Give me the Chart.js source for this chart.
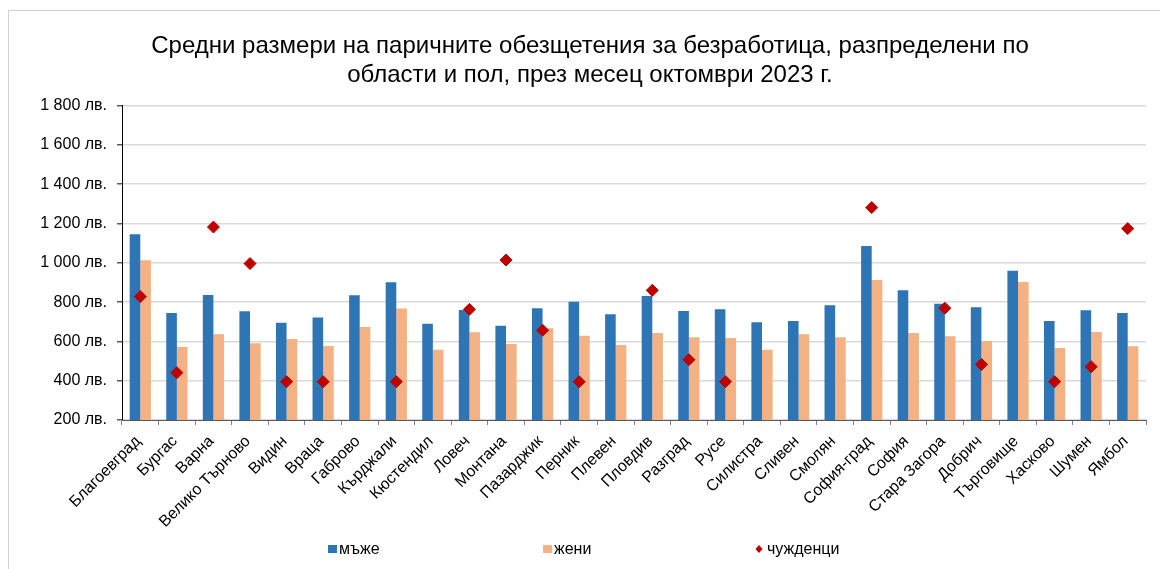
<!DOCTYPE html>
<html>
<head>
<meta charset="utf-8">
<script src="https://cdn.jsdelivr.net/npm/chart.js@4/dist/chart.umd.min.js"></script>
<style>
  html, body { margin: 0; padding: 0; background: #fff; }
  #wrap { position: relative; width: 1160px; height: 569px; overflow: hidden; }
  #frame { position: absolute; left: 8px; top: 10px; width: 1200px; height: 600px;
           border-top: 1px solid #d0d0d0; border-left: 1px solid #d0d0d0; }
  canvas { position: absolute; left: 0; top: 0; }
</style>
</head>
<body>
<div id="wrap">
  <div id="frame"></div>
  <canvas id="benefitChart" width="1160" height="569"></canvas>
</div>
<script>
// Regions (области)
const regions = [
    'Благоевград', 'Бургас', 'Варна', 'Велико Търново', 'Видин', 'Враца', 'Габрово',
    'Кърджали', 'Кюстендил', 'Ловеч', 'Монтана', 'Пазарджик', 'Перник', 'Плевен',
    'Пловдив', 'Разград', 'Русе', 'Силистра', 'Сливен', 'Смолян', 'София-град',
    'София', 'Стара Загора', 'Добрич', 'Търговище', 'Хасково', 'Шумен', 'Ямбол'
];

// Average benefit, BGN
const men = [1145, 745, 836, 753, 695, 722, 835, 901, 690, 760, 680, 769, 802, 738,
             831, 755, 763, 697, 704, 784, 1086, 860, 792, 774, 960, 704, 758, 745];
const women = [1013, 572, 636, 590, 612, 577, 673, 767, 558, 646, 587, 667, 629, 582,
               643, 621, 617, 558, 636, 621, 913, 643, 626, 602, 902, 567, 648, 575];
const foreigners = [828, 441, 1182, 996, 395, 395, null, 395, null, 763, 1014, 657, 395, null,
                    860, 507, 395, null, null, null, 1281, null, 769, 483, null, 395, 471, 1174];

const yTicks = [200, 400, 600, 800, 1000, 1200, 1400, 1600, 1800];

const FONT = 'Liberation Sans, Arial, sans-serif';

function formatLeva(v) {
    let s = v >= 1000 ? Math.floor(v / 1000) + ' ' + String(v % 1000).padStart(3, '0') : String(v);
    return s + ' лв.';
}

// Legend spread out like the Excel original
const spacedLegend = {
    id: 'spacedLegend',
    afterDraw: function(chart, args, opts) {
        const c = chart.ctx;
        c.save();
        c.font = '16px ' + FONT;
        c.textBaseline = 'middle';
        chart.data.datasets.forEach(function(ds, i) {
            const x = opts.positions[i];
            const y = opts.y;
            c.fillStyle = ds.backgroundColor;
            if (ds.type === 'line') {
                c.beginPath();
                c.moveTo(x, y - 4);
                c.lineTo(x + 3.5, y);
                c.lineTo(x, y + 4);
                c.lineTo(x - 3.5, y);
                c.closePath();
                c.fill();
                c.fillStyle = '#000';
                c.fillText(ds.label, x + 8, y + 1);
            } else {
                c.fillRect(x, y - 4, 9, 8);
                c.fillStyle = '#000';
                c.fillText(ds.label, x + 11, y + 1);
            }
        });
        c.restore();
    }
};

const ctx = document.getElementById('benefitChart');

new Chart(ctx, {
    type: 'bar',
    data: {
        labels: regions,
        datasets: [
            {
                label: 'мъже',
                data: men,
                backgroundColor: '#2E75B6',
                categoryPercentage: 0.58,
                barPercentage: 1.0,
                order: 2
            },
            {
                label: 'жени',
                data: women,
                backgroundColor: '#F4B183',
                categoryPercentage: 0.58,
                barPercentage: 1.0,
                order: 2
            },
            {
                type: 'line',
                label: 'чужденци',
                data: foreigners,
                showLine: false,
                pointStyle: 'rectRot',
                pointRadius: 6,
                pointHoverRadius: 6,
                pointBackgroundColor: '#C00000',
                pointBorderColor: '#C00000',
                borderColor: '#C00000',
                backgroundColor: '#C00000',
                order: 1
            }
        ]
    },
    plugins: [spacedLegend],
    options: {
        responsive: false,
        animation: false,
        layout: {
            padding: { left: 34, right: 14, top: 0, bottom: 30 }
        },
        scales: {
            y: {
                min: 200,
                max: 1800,
                afterBuildTicks: function(axis) {
                    axis.ticks = yTicks.map(v => ({ value: v }));
                },
                afterFit: function(axis) {
                    axis.width = 88;
                },
                grid: {
                    color: '#d9d9d9',
                    lineWidth: 1.5,
                    tickColor: '#595959',
                    tickLength: 5
                },
                border: { color: '#000000', width: 1 },
                ticks: {
                    autoSkip: false,
                    color: '#000000',
                    padding: 10,
                    font: { family: FONT, size: 16 },
                    callback: function(value) {
                        return formatLeva(value);
                    }
                }
            },
            x: {
                afterFit: function(axis) {
                    axis.height = 119;
                },
                grid: {
                    drawOnChartArea: false,
                    offset: true,
                    tickColor: '#7f7f7f',
                    tickLength: 5
                },
                border: { color: '#595959', width: 1 },
                ticks: {
                    color: '#000000',
                    padding: 7,
                    labelOffset: -2,
                    minRotation: 45,
                    maxRotation: 45,
                    autoSkip: false,
                    font: { family: FONT, size: 16 }
                }
            }
        },
        plugins: {
            title: {
                display: true,
                text: [
                    'Средни размери на паричните обезщетения за безработица, разпределени по',
                    'области и пол, през месец октомври 2023 г.'
                ],
                color: '#000000',
                font: { family: FONT, size: 24, weight: 'normal', lineHeight: 1.2 },
                padding: { top: 32, bottom: 16 }
            },
            legend: { display: false },
            spacedLegend: {
                positions: [328, 543, 759],
                y: 549
            },
            tooltip: { enabled: false }
        }
    }
});
</script>
</body>
</html>
